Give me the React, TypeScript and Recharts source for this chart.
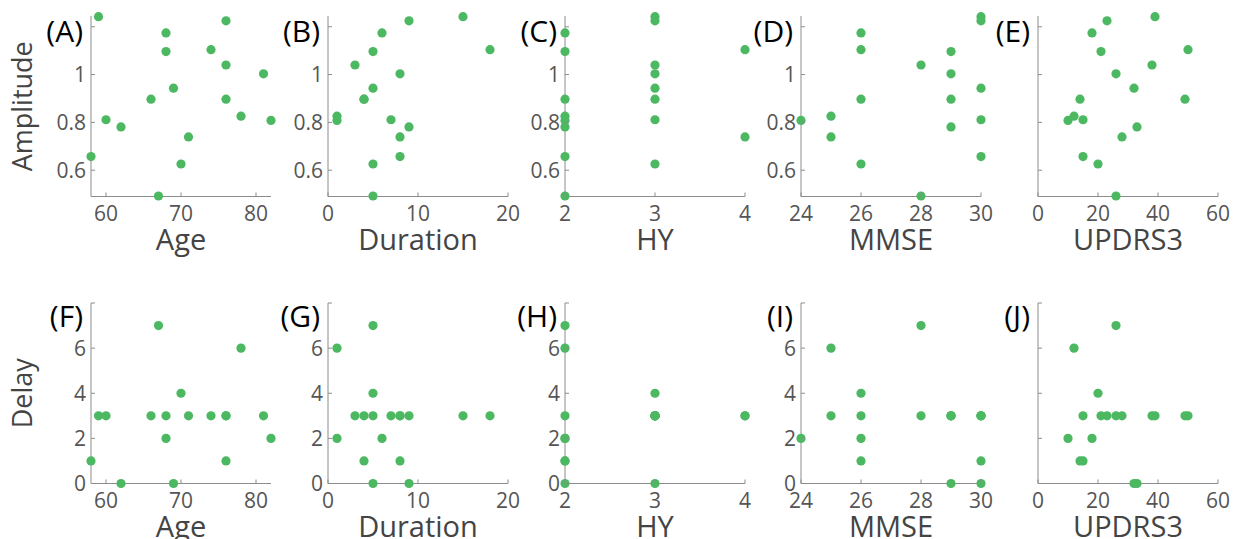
import React from 'react';
import { ScatterChart, Scatter, XAxis, YAxis } from 'recharts';

// Per-subject values (18 subjects)
const age = [59, 76, 68, 74, 68, 76, 81, 69, 66, 76, 78, 60, 82, 62, 71, 58, 70, 67];
const duration = [15, 9, 6, 18, 5, 3, 8, 5, 4, 4, 1, 7, 1, 9, 8, 8, 5, 5];
const hy = [3, 3, 2, 4, 2, 3, 3, 3, 3, 2, 2, 3, 2, 2, 4, 2, 3, 2];
const mmse = [30, 30, 26, 26, 29, 28, 29, 30, 29, 26, 25, 30, 24, 29, 25, 30, 26, 28];
const updrs3 = [39, 23, 18, 50, 21, 38, 26, 32, 49, 14, 12, 15, 10, 33, 28, 15, 20, 26];
const amplitude = [1.242, 1.225, 1.174, 1.104, 1.096, 1.04, 1.003, 0.943, 0.897, 0.897, 0.826, 0.811, 0.808, 0.781, 0.739, 0.657, 0.626, 0.492];
const delay = [3, 3, 2, 3, 3, 3, 3, 0, 3, 1, 6, 3, 2, 0, 3, 1, 4, 7];

const xNames = ['Age', 'Duration', 'HY', 'MMSE', 'UPDRS3'];
const xDomains = [[58, 82], [0, 20], [2, 4], [24, 30], [0, 60]];
const xTicks = [[60, 70, 80], [0, 10, 20], [2, 3, 4], [24, 26, 28, 30], [0, 20, 40, 60]];
const ampDomain = [0.49, 1.245];
const ampTicks = [0.6, 0.8, 1, 1.2];
const delayDomain = [0, 8];
const delayTicks = [0, 2, 4, 6, 8];
const topLetters = ['(A)', '(B)', '(C)', '(D)', '(E)'];
const bottomLetters = ['(F)', '(G)', '(H)', '(I)', '(J)'];
const yNames = ['Amplitude', 'Delay'];

const GREEN = '#4db862';
const AXIS = '#8c8c8c';
const TICK_TEXT = '#555555';
const LABEL_TEXT = '#444444';
const FONT = '"Open Sans", "Noto Sans", sans-serif';

const PLOT_W = 180;
const PLOT_H = 180.5;
const Y_AXIS_W = 91;
const TOP_M = 16;
const CHART_W = 300;
const CHART_H = 270;
const COL_PITCH = 236.7;
const FIRST_PLOT_LEFT = 91.3;
const ROW_PLOT_TOP = [16.3, 302.5];
const TITLE_BASE = [25.7, 23.5];

const xAxisCols = [age, duration, hy, mmse, updrs3];

function fmt(v: number) {
  return String(Math.round(v * 100) / 100);
}

function makeXTick() {
  return (p: any) => {
    const { x, y, payload } = p;
    return (
      <g>
        <line x1={x} y1={y} x2={x} y2={y - 4} stroke={AXIS} strokeWidth={1} />
        <text x={x} y={y + 24} textAnchor="middle" fontSize={21} fill={TICK_TEXT} fontFamily={FONT}>
          {fmt(payload.value)}
        </text>
      </g>
    );
  };
}

function makeYTick(showLabels: boolean, hidden: number) {
  return (p: any) => {
    const { x, y, payload } = p;
    const show = showLabels && Math.abs(payload.value - hidden) > 1e-9;
    return (
      <g>
        <line x1={x} y1={y} x2={x + 4} y2={y} stroke={AXIS} strokeWidth={1} />
        {show ? (
          <text x={x - 5} y={y + 7.5} textAnchor="end" fontSize={21} fill={TICK_TEXT} fontFamily={FONT}>
            {fmt(payload.value)}
          </text>
        ) : null}
      </g>
    );
  };
}

type PanelProps = {
  row: number;
  col: number;
};

function Panel({ row, col }: PanelProps) {
  const xs = xAxisCols[col];
  const ys = row === 0 ? amplitude : delay;
  const data = xs.map((x, i) => ({ x, y: ys[i] }));
  const plotLeft = FIRST_PLOT_LEFT + COL_PITCH * col;
  const plotTop = ROW_PLOT_TOP[row];
  const letter = row === 0 ? topLetters[col] : bottomLetters[col];
  const yTicks = row === 0 ? ampTicks : delayTicks;
  const yDomain = row === 0 ? ampDomain : delayDomain;
  const hiddenTick = yTicks[yTicks.length - 1];
  const showYLabels = col !== 4;
  const yName = col === 0 ? yNames[row] : null;
  const titleBase = TITLE_BASE[row];

  const yLabel = (p: any) => {
    const vb = p.viewBox || { x: 0, y: TOP_M, width: Y_AXIS_W, height: PLOT_H };
    const cy = vb.y + vb.height / 2;
    const nx = 32;
    return (
      <g>
        <text
          x={vb.x + vb.width - 8}
          y={vb.y + titleBase}
          textAnchor="end"
          fontSize={30}
          fill="#000"
          fontFamily={FONT}
        >
          {letter}
        </text>
        {yName ? (
          <text
            x={nx}
            y={cy}
            textAnchor="middle"
            fontSize={27}
            fill={LABEL_TEXT}
            fontFamily={FONT}
            transform={`rotate(-90, ${nx}, ${cy})`}
          >
            {yName}
          </text>
        ) : null}
      </g>
    );
  };

  const xLabel = (p: any) => {
    const vb = p.viewBox;
    return (
      <text
        x={vb.x + vb.width / 2}
        y={vb.y + 53.5}
        textAnchor="middle"
        fontSize={29}
        fill={LABEL_TEXT}
        fontFamily={FONT}
      >
        {xNames[col]}
      </text>
    );
  };

  return (
    <div
      style={{
        position: 'absolute',
        left: plotLeft - Y_AXIS_W,
        top: plotTop - TOP_M,
        width: CHART_W,
        height: CHART_H,
      }}
    >
      <ScatterChart
        width={CHART_W}
        height={CHART_H}
        margin={{ top: TOP_M, right: CHART_W - Y_AXIS_W - PLOT_W, bottom: 0, left: 0 }}
      >
        <XAxis
          type="number"
          dataKey="x"
          domain={xDomains[col]}
          ticks={xTicks[col]}
          interval={0}
          height={CHART_H - TOP_M - PLOT_H}
          axisLine={{ stroke: AXIS, strokeWidth: 1 }}
          tickLine={false}
          tickSize={0}
          tickMargin={0}
          tick={makeXTick()}
          label={{ position: 'insideBottom', content: xLabel }}
        />
        <YAxis
          type="number"
          dataKey="y"
          domain={yDomain}
          ticks={yTicks}
          interval={0}
          width={Y_AXIS_W}
          axisLine={{ stroke: AXIS, strokeWidth: 1 }}
          tickLine={false}
          tickSize={0}
          tickMargin={0}
          tick={makeYTick(showYLabels, hiddenTick)}
          label={{ position: 'insideLeft', content: yLabel }}
        />
        <Scatter
          data={data}
          isAnimationActive={false}
          shape={(p: any) => <circle cx={p.cx} cy={p.cy} r={4.6} fill={GREEN} />}
        />
      </ScatterChart>
    </div>
  );
}

export default function App() {
  const panels = [];
  for (let r = 0; r < 2; r++) {
    for (let c = 0; c < 5; c++) {
      panels.push(<Panel key={`${r}-${c}`} row={r} col={c} />);
    }
  }
  return (
    <div
      style={{
        position: 'absolute',
        left: 0,
        top: 0,
        width: 1246,
        height: 539,
        overflow: 'hidden',
        background: '#fff',
        fontFamily: FONT,
      }}
    >
      {panels}
    </div>
  );
}
